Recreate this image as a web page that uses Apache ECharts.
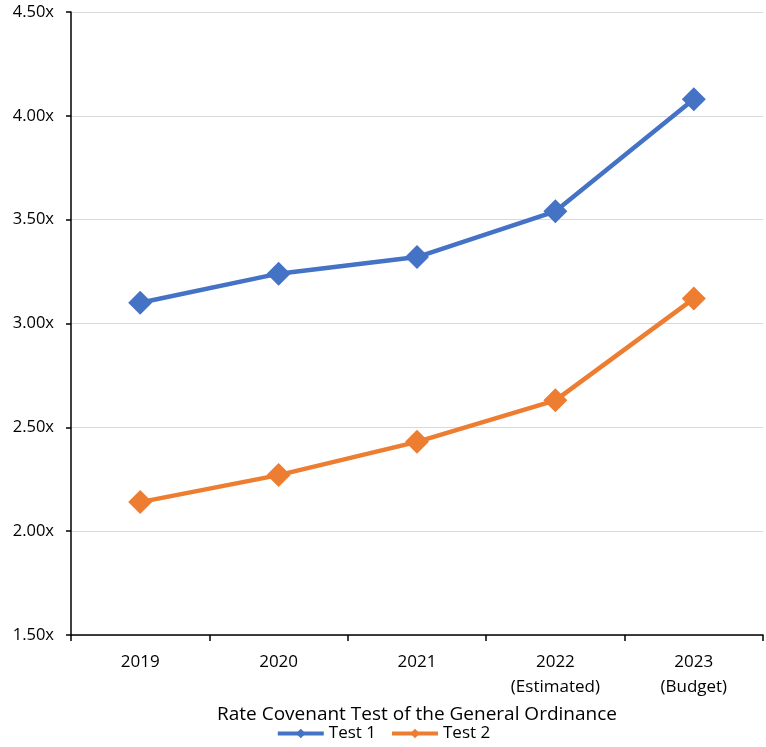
<!DOCTYPE html>
<html><head><meta charset="utf-8">
<script src="https://cdn.jsdelivr.net/npm/echarts@6/dist/echarts.min.js"></script>
<style>html,body{margin:0;padding:0;background:#fff}#c{width:766px;height:747px}</style>
</head><body><div id="c"></div>
<script>
const categories = ['2019', '2020', '2021', '2022\n(Estimated)', '2023\n(Budget)'];
const test1 = [3.10, 3.24, 3.32, 3.54, 4.08];
const test2 = [2.14, 2.27, 2.43, 2.63, 3.12];
const seriesNames = ['Test 1', 'Test 2'];
const xTitle = 'Rate Covenant Test of the General Ordinance';
const FONT = '"Open Sans", "Liberation Sans", sans-serif';
const chart = echarts.init(document.getElementById('c'), null, {renderer: 'canvas'});
chart.setOption({
  animation: false,
  textStyle: {fontFamily: FONT},
  grid: {left: 71, right: 3, top: 12, bottom: 112, containLabel: false},
  legend: {
    bottom: 0, left: 'center', itemWidth: 46, itemHeight: 12, itemGap: 14,
    lineStyle: {width: 4},
    textStyle: {fontSize: 17, color: '#000', fontFamily: FONT},
    data: seriesNames
  },
  xAxis: {
    type: 'category', data: categories, boundaryGap: true,
    name: xTitle, nameLocation: 'middle', nameGap: 68,
    nameTextStyle: {fontSize: 19, color: '#000', fontFamily: FONT},
    axisLine: {lineStyle: {color: '#000', width: 1.5}},
    axisTick: {show: true, length: 6, lineStyle: {color: '#000', width: 1.5}},
    axisLabel: {fontSize: 17, color: '#000', margin: 15, lineHeight: 25, fontFamily: FONT}
  },
  yAxis: {
    type: 'value', min: 1.5, max: 4.5, interval: 0.5,
    axisLine: {show: true, lineStyle: {color: '#000', width: 1.5}},
    axisTick: {show: true, length: 5, lineStyle: {color: '#000', width: 1.5}},
    axisLabel: {fontSize: 16.5, color: '#000', margin: 17, fontFamily: FONT,
      formatter: v => v.toFixed(2) + 'x'},
    splitLine: {lineStyle: {color: '#d9d9d9', width: 1}}
  },
  series: [
    {name: seriesNames[0], type: 'line', data: test1, symbol: 'diamond', symbolSize: 24,
     itemStyle: {color: '#4472c4'}, lineStyle: {color: '#4472c4', width: 4.5}},
    {name: seriesNames[1], type: 'line', data: test2, symbol: 'diamond', symbolSize: 24,
     itemStyle: {color: '#ed7d31'}, lineStyle: {color: '#ed7d31', width: 4.5}}
  ]
});
</script></body></html>
